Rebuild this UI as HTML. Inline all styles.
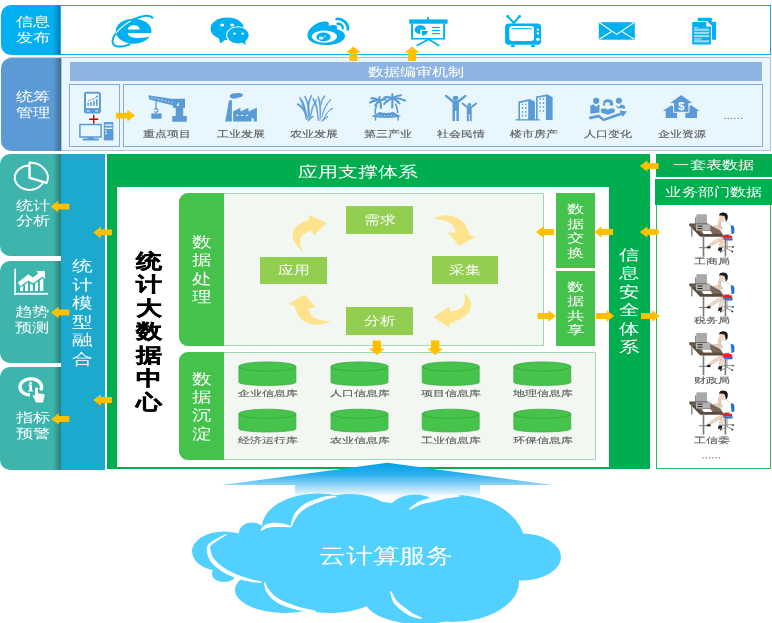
<!DOCTYPE html>
<html><head><meta charset="utf-8">
<style>
*{margin:0;padding:0;box-sizing:border-box}
html,body{width:772px;height:623px;overflow:hidden;background:#fff}
body{position:relative;font-family:"Liberation Sans",sans-serif}
.a{position:absolute}
.t{position:absolute;white-space:nowrap;will-change:transform;transform:translateX(-50%) scaleX(var(--k,1.3));text-align:center}
.w{color:#fff}
.g{color:#5a5a5a;-webkit-text-stroke:0.12px #5a5a5a}
.b{color:#000;font-weight:bold;-webkit-text-stroke:0.35px #000}
.lbl{border-radius:10px 0 0 10px;overflow:hidden}
.lbl::after{content:"";position:absolute;right:0;top:0;bottom:0;width:8px;background:linear-gradient(to right,rgba(0,0,0,0),rgba(0,0,0,.3))}
svg{position:absolute;left:0;top:0}
</style></head><body>


<div class="a lbl" style="left:1px;top:4.5px;width:60px;height:50.5px;background:#00B0F0"></div>
<div class="a" style="left:60px;top:4.5px;width:711px;height:50.5px;border:1.5px solid #00B0F0;background:#fff"></div>

<div class="a" style="left:61px;top:56.5px;width:710px;height:94.5px;background:#E8F6FE;border:1px solid #A9C6E8;border-top-color:#B4C0D2"></div>
<div class="a" style="left:8px;top:56.5px;width:54px;height:1px;background:#C4CCD8"></div>
<div class="a lbl" style="left:1px;top:57.5px;width:60px;height:93.5px;background:#5B9BD5"></div>
<div class="a" style="left:69.5px;top:62px;width:692.5px;height:19px;background:#8DB4E2"></div>
<div class="a" style="left:69px;top:84px;width:51px;height:63px;border:1px solid #8AA8DC"></div>
<div class="a" style="left:123px;top:84px;width:640px;height:63px;border:1px solid #8AA8DC"></div>

<div class="a lbl" style="left:0;top:154px;width:61px;height:102px;background:#3DB5AD"></div>
<div class="a lbl" style="left:0;top:260.5px;width:61px;height:102px;background:#3DB5AD"></div>
<div class="a lbl" style="left:0;top:367px;width:61px;height:103px;background:#3DB5AD"></div>
<div class="a" style="left:60.5px;top:154px;width:44.5px;height:316px;background:#1CA9CE"></div>

<div class="a" style="left:107px;top:154px;width:542.5px;height:315px;background:#00AD4F"></div>
<div class="a" style="left:117px;top:187px;width:491.5px;height:280px;background:#fff"></div>

<div class="a" style="left:179px;top:192.8px;width:365px;height:153.5px;background:#F2F8F1;border:1.3px solid #9ED9B0;border-radius:9px 0 0 9px"></div>
<div class="a" style="left:179px;top:192.8px;width:45px;height:153.5px;background:#45C24B;border-radius:9px 0 0 9px"></div>
<div class="a" style="left:179px;top:351.5px;width:417px;height:108.5px;background:#F2F8F1;border:1.3px solid #9ED9B0;border-radius:9px 0 0 9px"></div>
<div class="a" style="left:179px;top:351.5px;width:45px;height:108.5px;background:#45C24B;border-radius:9px 0 0 9px"></div>

<div class="a" style="left:556.3px;top:192.6px;width:39px;height:75px;background:#45C24B"></div>
<div class="a" style="left:556.3px;top:270.5px;width:39px;height:75px;background:#45C24B"></div>

<div class="a" style="left:346.4px;top:206px;width:66.6px;height:27.7px;background:#92CF50"></div>
<div class="a" style="left:431.8px;top:256.2px;width:66.6px;height:27.7px;background:#92CF50"></div>
<div class="a" style="left:260.2px;top:256.8px;width:67px;height:27.4px;background:#92CF50"></div>
<div class="a" style="left:346.4px;top:307.3px;width:66.6px;height:27.4px;background:#92CF50"></div>

<div class="a" style="left:655.7px;top:153.6px;width:116.3px;height:23px;background:#00AD4F"></div>
<div class="a" style="left:655px;top:179.2px;width:117px;height:25.8px;background:#00AD4F"></div>
<div class="a" style="left:655.5px;top:205px;width:115.5px;height:263.5px;border:1.5px solid #2DB85A;border-top:none;background:#fff"></div>

<svg width="772" height="623" viewBox="0 0 772 623">
<g>
<ellipse cx="133.6" cy="31.2" rx="17.8" ry="12.5" fill="#00B0F0"/>
<path d="M127.8,29.4 C128,26.6 131,25.2 133.8,25.2 C136.8,25.2 139.6,26.6 139.8,29.4 Z" fill="#fff"/>
<path d="M127.6,33 L151.6,33 L151.6,35.8 C148,37.4 141,38.2 136,38 C131,37.8 128.2,36 127.6,33 Z" fill="#fff"/>
<path d="M152.46,17.79 L151.94,17.30 L151.32,16.88 L150.62,16.53 L149.82,16.25 L148.95,16.04 L147.99,15.91 L146.97,15.85 L145.87,15.87 L144.72,15.97 L143.50,16.14 L142.24,16.38 L140.93,16.70 L139.58,17.08 L138.20,17.54 L136.79,18.06 L135.37,18.65 L133.94,19.30 L132.50,20.01 L131.06,20.77 L129.63,21.59 L128.23,22.45 L126.84,23.35 L125.49,24.29 L124.17,25.27 L122.90,26.28 L121.67,27.31 L120.51,28.36 L119.40,29.42 L118.37,30.49 L117.40,31.57 L116.51,32.64 L115.71,33.71 L114.99,34.76 L114.35,35.80 L113.81,36.81 L113.37,37.80 L113.02,38.76 L112.77,39.67 L112.62,40.55 L112.57,41.38 L112.62,42.16 L112.78,42.88 L113.03,43.55 L113.38,44.16 L113.83,44.70 L114.37,45.18 L115.00,45.59 L115.73,45.93 L116.53,46.19 L117.42,46.39 L118.39,46.50 L119.43,46.55 L120.54,46.51 L121.71,46.41 L122.93,46.22 L124.20,45.97 L125.52,45.64 L126.88,45.24 L128.26,44.77 L129.67,44.23" fill="none" stroke="#00B0F0" stroke-width="2" stroke-linecap="round"/>
<path d="M130.46,21.11 L129.75,21.52 L129.05,21.94 L128.35,22.37 L127.65,22.81 L126.97,23.27 L126.29,23.73 L125.61,24.20 L124.95,24.68 L124.30,25.17 L123.66,25.67 L123.03,26.17 L122.41,26.68 L121.80,27.20 L121.21,27.72 L120.64,28.24 L120.07,28.77 L119.53,29.30 L119.00,29.83 L118.49,30.36 L117.99,30.90 L117.52,31.43 L117.06,31.97 L116.62,32.50 L116.21,33.04" fill="none" stroke="#fff" stroke-width="1.1" stroke-linecap="round"/>
</g>
<g fill="#00B0F0">
<ellipse cx="227.2" cy="28.7" rx="16.7" ry="11.2"/>
<path d="M218.5,37 L220.2,43.4 L226,39.2 Z"/>
<ellipse cx="237.9" cy="35.3" rx="11.8" ry="9.1" fill="#fff"/>
<ellipse cx="237.9" cy="35.3" rx="10.8" ry="8.1"/>
<path d="M240.5,41.5 L245.8,45 L245,39 Z"/>
<ellipse cx="222.2" cy="25" rx="2" ry="1.5" fill="#fff"/>
<ellipse cx="232.1" cy="25" rx="2" ry="1.5" fill="#fff"/>
<ellipse cx="234.5" cy="33.7" rx="1.3" ry="1.1" fill="#fff"/>
<ellipse cx="242.6" cy="33.7" rx="1.3" ry="1.1" fill="#fff"/>
</g>
<g>
<path d="M307.5,36 C307,31 312,25.5 318,23 C322.5,21.2 327,21 328.4,22.5 C329.4,23.6 328.8,25 328.6,26 C331,25 334.5,24.5 336.2,25.6 C337.6,26.6 337.2,28.3 336.8,29.2 C341,30 345.2,32.4 345,36.2 C344.8,41.5 336,45 326,45 C315.5,45 307.8,41.5 307.5,36 Z" fill="#00B0F0"/>
<ellipse cx="324.4" cy="36.6" rx="12.6" ry="6.1" fill="#fff"/>
<ellipse cx="323.5" cy="36.9" rx="7.2" ry="4.5" fill="#00B0F0"/>
<ellipse cx="321.2" cy="37.9" rx="2.4" ry="1.5" fill="#fff"/>
<circle cx="325" cy="36.2" r="0.8" fill="#fff"/>
<path d="M336.6,19 C342.5,18.5 348.5,23 347.8,29.5" fill="none" stroke="#00B0F0" stroke-width="2.7" stroke-linecap="round"/>
<path d="M337.6,23.8 C340.5,23.5 343.2,25.6 342.8,28.2" fill="none" stroke="#00B0F0" stroke-width="2.4" stroke-linecap="round"/>
</g>
<g fill="#00B0F0">
<rect x="409.2" y="19.4" width="38.4" height="4.3"/>
<rect x="427.1" y="16.9" width="1.8" height="3"/>
<path d="M411.1,23.7 h34 v15.8 h-34 Z M413.1,23.7 v14.2 h30.1 v-14.2 Z" fill-rule="evenodd"/>
<path d="M420.3,29.7 L426,29.7 A5.7,4.4 0 1 0 420.3,34.1 Z"/>
<path d="M422,31.1 L427.9,31.1 A5.9,4.6 0 0 1 422,35.7 Z"/>
<rect x="432.1" y="26.9" width="7.8" height="1.2"/>
<rect x="432.1" y="30" width="7.8" height="1.2"/>
<rect x="432.1" y="33" width="7.8" height="1.2"/>
<path d="M428.6,39.2 L417.2,45.4 M428.6,39.2 L438.9,45.4" stroke="#00B0F0" stroke-width="1.7" stroke-linecap="round"/>
</g>
<g fill="#00B0F0">
<rect x="505.1" y="23.5" width="36" height="21.2" rx="3.5"/>
<rect x="509.3" y="26" width="24.7" height="15.1" rx="3" fill="#fff"/>
<path d="M511.5,28.9 Q522,27.8 532,28.9" stroke="#00B0F0" stroke-width="1" fill="none"/>
<circle cx="537.9" cy="29.6" r="1.2" fill="#fff"/>
<circle cx="537.9" cy="33.4" r="1.2" fill="#fff"/>
<ellipse cx="537.9" cy="39.2" rx="1.9" ry="1.5" fill="#fff"/>
<path d="M513.8,23 L508,16.6 M513.8,23 L519.4,16.6" stroke="#00B0F0" stroke-width="2" stroke-linecap="round"/>
<circle cx="507.7" cy="16.4" r="1.4"/><circle cx="519.6" cy="16.4" r="1.4"/>
<ellipse cx="512.8" cy="46.1" rx="2.2" ry="1.2"/>
<ellipse cx="533" cy="46.1" rx="2.2" ry="1.2"/>
</g>
<g>
<rect x="598.8" y="22.2" width="36" height="17.5" fill="#00B0F0"/>
<path d="M599.3,22.6 L616.7,34.4 L634.3,22.6 M599.3,39.3 L611.9,31.2 M634.3,39.3 L621.4,31.2" stroke="#fff" stroke-width="1.2" fill="none"/>
</g>
<g>
<path d="M697.8,17.8 L711.8,17.8 L716.1,22 L716.1,39.8 L697.8,39.8 Z" fill="#00B0F0"/>
<path d="M711.8,17.8 L716.1,22 L711.8,22 Z" fill="#fff"/>
<path d="M691.2,21.1 L707,21.1 L712,26 L712,45.4 L691.2,45.4 Z" fill="#fff"/>
<path d="M692.2,22.1 L706.3,22.1 L710.9,26.5 L710.9,44.4 L692.2,44.4 Z" fill="#00B0F0"/>
<path d="M706.3,22.1 L710.9,26.5 L706.3,26.5 Z" fill="#fff"/>
<g fill="#9ADCF8"><rect x="694.1" y="28.6" width="15" height="2.2"/><rect x="694.1" y="31.8" width="15" height="2.2"/><rect x="694.1" y="35" width="15" height="2.2"/><rect x="694.1" y="38.2" width="7.5" height="1.4"/><rect x="694.1" y="40.2" width="15" height="2.2"/></g>
<rect x="694.1" y="27" width="4" height="1" fill="#9ADCF8"/>
</g>
<g fill="#5B9BD5">
<rect x="84" y="91.8" width="16.9" height="21.6" rx="2.2"/>
<rect x="86" y="93.7" width="12.9" height="14.4" fill="#F4FAFE"/>
<rect x="86.5" y="110.5" width="3.2" height="0.9" fill="#F4FAFE"/><rect x="95" y="110.5" width="3.2" height="0.9" fill="#F4FAFE"/>
<rect x="87.3" y="103" width="1.6" height="2.8"/><rect x="90.2" y="102" width="1.6" height="3.8"/><rect x="93.1" y="100.6" width="1.6" height="5.2"/><rect x="96" y="99.2" width="1.6" height="6.6"/>
<path d="M87.8,101 L91.5,99.5 L94.5,98.5 L97.2,96.5" stroke="#5B9BD5" stroke-width="0.8" fill="none"/>
<path d="M98.2,95.5 L95.6,96 L97.8,98 Z"/>
<path d="M89.2,119.2 h9 M93.7,114.8 v9" stroke="#C00000" stroke-width="1.4"/>
<rect x="79.9" y="124.5" width="21.2" height="12.5" fill="none" stroke="#5B9BD5" stroke-width="1.5"/>
<path d="M88.5,137 L93,137 L94.5,139 L87,139 Z"/>
<rect x="82.6" y="138.6" width="16.4" height="1.8" rx="0.9"/>
<rect x="103.8" y="122.1" width="9.6" height="18.3"/>
<rect x="104.8" y="124.4" width="7.6" height="1.3" fill="#F4FAFE"/>
<rect x="104.8" y="127.6" width="7.6" height="1.3" fill="#F4FAFE"/>
<rect x="105" y="130.5" width="1.8" height="1.2" fill="#F4FAFE"/>
<rect x="105" y="133" width="1.8" height="1.2" fill="#F4FAFE"/>
</g>
<g fill="#5B9BD5">
<path d="M148.6,95.3 L176.2,99.4 L176.2,106.2 L149.2,99.4 Z"/>
<g fill="#E8F6FE"><circle cx="152" cy="97.9" r="0.6"/><circle cx="155.3" cy="98.6" r="0.6"/><circle cx="158.6" cy="99.4" r="0.6"/><circle cx="161.9" cy="100.2" r="0.6"/><circle cx="165.2" cy="101" r="0.6"/><circle cx="168.5" cy="101.8" r="0.6"/><circle cx="171.8" cy="102.6" r="0.6"/></g>
<path d="M173.1,98.8 L185,98.8 L185,108.1 L183.2,108.1 L183.2,116 L186.8,116 L186.8,121.8 L172.2,121.8 L172.2,116 L175.7,116 L175.7,108.1 L173.1,108.1 Z"/>
<path d="M176.3,105.9 L178.8,101.9 L178.8,105.9 Z" fill="#E8F6FE"/>
<rect x="155.4" y="99.5" width="1.3" height="9"/>
<path d="M154.2,109.6 Q156,107.8 157.8,109.6 Q158,112 156,112.3 Q154.6,112.2 154.5,111.2" fill="none" stroke="#5B9BD5" stroke-width="1.2"/>
<rect x="151.3" y="113.4" width="10.3" height="5.3"/>
</g>
<g fill="#5B9BD5">
<path d="M229.1,100.2 L231.9,100.2 L231.9,121.4 L225.2,121.4 Z"/>
<path d="M230,95.5 C231,93.5 234,93 236,93.4 C238.5,92.5 242,93 242.9,94.8 C243,96.5 240.5,97.5 238.5,97.6 C236.5,98.8 233,99 231.2,98 C229.8,97.6 229.5,96.5 230,95.5 Z"/>
<path d="M233.1,111.5 L240.4,107.8 L240.4,111.5 L248.5,107.8 L248.5,111.5 L256.9,107.5 L256.9,121.4 L253.7,121.4 L253.7,118.2 L251.6,118.2 L251.6,121.4 L233.1,121.4 Z"/>
<g fill="#E8F6FE"><rect x="236.2" y="114.9" width="2.2" height="1.1"/><rect x="241" y="114.9" width="2.2" height="1.1"/><rect x="245.8" y="114.9" width="2.2" height="1.1"/></g>
</g>
<g fill="#5B9BD5" stroke="#5B9BD5" stroke-width="0.6" stroke-linejoin="round"><path d="M298,103.5 Q306,107 308.5,120.5 Q304,108.5 296.8,104.2 Z"/><path d="M300,97.2 Q306.5,104 306.3,120 Q303.2,105 299.5,97.8 Z"/><path d="M305,96 Q310.5,104 309.3,120.5 Q309,105 304.4,96.6 Z"/><path d="M311.2,95 Q306,104 308.5,117 Q307.8,104.5 311.8,95.5 Z"/><path d="M313.3,98 Q318.5,105 318.3,121 Q316.8,106 312.6,98.5 Z"/><path d="M317,99.8 Q312,107 310.5,118 Q310.2,108 316.4,99.5 Z"/><path d="M318.5,96.5 Q322,104 320,120.5 Q320.3,105 317.9,97 Z"/><path d="M324.6,95.5 Q320.6,100 321,105 Q321.8,100 325.2,96 Z"/><path d="M331.2,99.8 Q324.3,106 321.9,117.5 Q323,107 330.6,99.4 Z"/><path d="M332.8,108.5 Q326,111.5 323.4,121 Q325,113 332.2,108 Z"/><path d="M313,116 Q309,117.5 308,121.5 Q310,118.5 313.6,116.6 Z"/><path d="M327.5,116.3 Q323,118 321.5,121.6 Q324,119 328,116.8 Z"/></g>
<g fill="#5B9BD5">
<g stroke="#5B9BD5" stroke-width="2.1" stroke-linecap="round" fill="none">
<path d="M379.6,100.8 Q375,99.5 370.2,102.6"/><path d="M379.6,100.8 Q374.5,97.6 371.3,98.2"/><path d="M379.6,100.8 Q379,97.5 379.8,97"/>
<path d="M379.6,100.8 Q384,98.5 385.5,99.4"/><path d="M379.6,100.8 Q376.5,103 375.2,105.5"/><path d="M379.6,100.8 Q381.5,104 380.8,108"/>
<path d="M392.4,98.2 Q387,96.5 384.2,97.6"/><path d="M392.4,98.2 Q397,95.5 401,95.2"/><path d="M392.4,98.2 Q398,97.5 405,100.5"/>
<path d="M392.4,98.2 Q386,101 384.2,104"/><path d="M392.4,98.2 Q392.5,101 392.2,107.5"/><path d="M392.4,98.2 Q397,100 399.5,103.5"/><path d="M392.4,98.2 Q392,95.5 392.5,94.2"/>
</g>
<path d="M376.8,105 Q374.8,109 375.1,113.8" stroke="#5B9BD5" stroke-width="1.6" fill="none"/>
<path d="M395.5,103.6 Q397.5,108 397.8,113.2" stroke="#5B9BD5" stroke-width="1.6" fill="none"/>
<path d="M371.3,116.4 L379.5,112 Q386.5,114 393.3,112 L401,116.4 Q386,119.5 371.3,116.4 Z"/>
<g fill="#E8F6FE" opacity="0.8"><circle cx="377.5" cy="115" r="0.5"/><circle cx="381" cy="115.2" r="0.5"/><circle cx="384.5" cy="115.4" r="0.5"/><circle cx="388" cy="115.4" r="0.5"/><circle cx="391.5" cy="115.2" r="0.5"/><circle cx="395" cy="115" r="0.5"/><circle cx="379" cy="116.8" r="0.5"/><circle cx="382.8" cy="117" r="0.5"/><circle cx="386.5" cy="117.1" r="0.5"/><circle cx="390.2" cy="117" r="0.5"/><circle cx="393.8" cy="116.8" r="0.5"/></g>
<rect x="374.8" y="116.5" width="1.4" height="4.1"/><rect x="397.4" y="116.5" width="1.4" height="4.1"/>
</g>
<g fill="#5B9BD5">
<ellipse cx="455.6" cy="98.1" rx="2.8" ry="2.3"/>
<path d="M446,95.9 L453,101.5 M465.4,95.9 L458.4,101.5" stroke="#5B9BD5" stroke-width="2.3" stroke-linecap="round"/>
<rect x="452.5" y="100.4" width="6.4" height="10.5"/>
<rect x="452.5" y="110" width="2.5" height="11" rx="0.6"/><rect x="456.4" y="110" width="2.5" height="11" rx="0.6"/>
<circle cx="469.3" cy="104.8" r="1.9"/>
<path d="M462.5,103.5 L467.3,107.3 M476.1,103.5 L471.3,107.3" stroke="#5B9BD5" stroke-width="1.8" stroke-linecap="round"/>
<rect x="466.8" y="106.5" width="4.9" height="7.5"/>
<rect x="466.8" y="113" width="2" height="8.2" rx="0.5"/><rect x="469.7" y="113" width="2" height="8.2" rx="0.5"/>
</g>
<g fill="#5B9BD5">
<path d="M518.4,120 L518.4,101.6 L529.7,99 L534.9,101.5 L534.9,120 L528.2,120 L528.2,101.2 L520,102.9 L520,120 Z"/>
<path d="M536,120 L536,96.5 L547.4,94.3 L552.6,97.3 L552.6,120 L545.9,120 L545.9,96.4 L537.6,98 L537.6,120 Z"/>
<rect x="515.7" y="119.2" width="24" height="1.3"/>
<rect x="521.8" y="103.5" width="1.4" height="1.8" rx="0.5"/><rect x="521.8" y="107.1" width="1.4" height="1.8" rx="0.5"/><rect x="521.8" y="110.9" width="1.4" height="1.8" rx="0.5"/><rect x="521.8" y="114.6" width="1.4" height="1.8" rx="0.5"/><rect x="525.1" y="103.5" width="1.4" height="1.8" rx="0.5"/><rect x="525.1" y="107.1" width="1.4" height="1.8" rx="0.5"/><rect x="525.1" y="110.9" width="1.4" height="1.8" rx="0.5"/><rect x="525.1" y="114.6" width="1.4" height="1.8" rx="0.5"/><rect x="539.5" y="98.3" width="1.4" height="1.8" rx="0.5"/><rect x="539.5" y="102.1" width="1.4" height="1.8" rx="0.5"/><rect x="539.5" y="106.0" width="1.4" height="1.8" rx="0.5"/><rect x="539.5" y="109.9" width="1.4" height="1.8" rx="0.5"/><rect x="542.8" y="98.3" width="1.4" height="1.8" rx="0.5"/><rect x="542.8" y="102.1" width="1.4" height="1.8" rx="0.5"/><rect x="542.8" y="106.0" width="1.4" height="1.8" rx="0.5"/><rect x="542.8" y="109.9" width="1.4" height="1.8" rx="0.5"/>
</g>
<g fill="#5B9BD5">
<circle cx="596.2" cy="100.8" r="3.1"/>
<path d="M590.3,106 Q591,104.8 594,104.6 L596.2,107 L598.4,104.6 Q599.2,104.6 599.5,105.5 L599.5,112.5 L590.3,113.8 Z"/>
<circle cx="618.9" cy="100.8" r="3"/>
<path d="M615.6,104.8 L618.6,107.2 L621,104.6 Q624.7,104.9 625,106.5 L625,108.6 L617.5,108.2 Z"/>
<path d="M602.7,105.6 L603.6,101.5 Q604.5,99.2 608.1,99.2 Q611.7,99.2 612.6,101.5 L613.5,105.6 Z"/>
<path d="M605.1,103 Q606.5,102.6 607.6,101.8 Q608.8,102.8 609.9,102.6 L609.9,104.4 Q609.5,106.2 607.5,106.3 Q605.5,106.2 605.1,104.4 Z" fill="#E8F6FE"/>
<path d="M600.7,110 Q600.7,108.4 602.5,108.4 L605.6,108.4 Q607.8,110.4 610,108.4 L613.2,108.4 Q614.9,108.4 614.9,110 L614.2,112.4 L607.8,114.8 L601.4,112.8 Z"/>
<path d="M588.8,116.8 L598.8,114.5 L603.8,118.6 L620.5,112.4 L619.6,110.4 L627,111.4 L622.5,117 L621.6,115 L603.4,121.2 L598.4,117.6 L589.8,119.6 Z"/>
</g>
<g fill="#5B9BD5">
<path d="M671.4,105.3 L680.2,110.9 L677.1,110.9 L677.1,118.1 L665.7,118.1 L665.7,110.9 L662.8,110.9 Z"/>
<path d="M691.1,105.3 L699.6,110.9 L697,110.9 L697,118.1 L685.4,118.1 L685.4,110.9 L682.3,110.9 Z"/>
<path d="M681.2,94.6 L693.6,103.4 L688.9,103.4 L688.9,112.3 L673.6,112.3 L673.6,103.4 L668.9,103.4 Z" stroke="#E8F6FE" stroke-width="1"/>
<text x="681.3" y="110.4" font-size="11.5" font-weight="bold" fill="#fff" text-anchor="middle" font-family="Liberation Sans, sans-serif">$</text>
</g>
<g fill="#666"><ellipse cx="725.0" cy="118.2" rx="0.85" ry="0.55"/><ellipse cx="728.3" cy="118.2" rx="0.85" ry="0.55"/><ellipse cx="731.6" cy="118.2" rx="0.85" ry="0.55"/><ellipse cx="734.9" cy="118.2" rx="0.85" ry="0.55"/><ellipse cx="738.2" cy="118.2" rx="0.85" ry="0.55"/><ellipse cx="741.5" cy="118.2" rx="0.85" ry="0.55"/></g>

<g fill="none" stroke="#fff" stroke-width="2">
<path d="M29.5,177.7 L29.5,165.5 A14.7,12.2 0 1 0 43.3,181.9 Z" stroke-linejoin="round"/>
<path d="M29.5,177.7 L29.5,162.6 A18.4,15.1 0 0 1 46.7,182.95 Z" stroke-linejoin="round"/>
</g>
<g fill="#fff">
<rect x="14.3" y="268.7" width="1.7" height="26.2"/>
<rect x="14.3" y="292.9" width="33.8" height="1.8"/>
<path d="M17.9,282.4 L28.3,274.2 L32.8,277.4 L38.4,273.2 L36.2,271.2 L44.8,270.8 L45.2,279 L42.6,276.4 L32.9,283.2 L28.3,280.4 L20.2,286.2 Z"/>
<path d="M20.1,291 L20.1,287.4 L21.6,286.6 L23.1,285.9 L23.1,291 Z"/>
<path d="M25,291 L25,284.4 L28,282.3 L28,291 Z"/>
<path d="M30.1,291 L30.1,283.6 L32.9,285.3 L32.9,291 Z"/>
<path d="M35,291 L35,283.6 L38,281.5 L38,291 Z"/>
<path d="M39.9,291 L39.9,280.2 L43.3,277.8 L43.3,291 Z"/>
</g>
<g>
<path d="M40.6,390.3 A10.8,8.1 0 1 0 29.9,395" fill="none" stroke="#fff" stroke-width="3.3"/>
<circle cx="30.6" cy="383" r="1.3" fill="#fff"/>
<path d="M28.5,384.6 L32,384.6 L32,390.3 L33,390.3 L33,391.6 L28.3,391.6 L28.3,390.3 L29.4,390.3 L29.4,385.9 L28.5,385.9 Z" fill="#fff"/>
<path d="M35,388.8 Q35,387.6 36.5,387.6 Q38,387.6 38,388.8 L38,393.2 L43.5,394 Q44.8,394.3 44.6,395.6 L43.6,400 L42.9,402.6 L35.8,402.6 L34.5,399 L32.8,396.2 Q32.6,395 33.8,395 L35,396 Z" fill="#fff" stroke="#3DB5AD" stroke-width="2.2" paint-order="stroke"/>
</g>

<g fill="#FFE28C">
<path d="M303.4,251.8 C293,244 289,233 297,226 C301,222.5 305,221 309.1,219.8 L308.4,214.7 L326.5,223 L313.8,235.6 L311.7,231 C305,232 300,236 300,241 C300,245 301,248.5 303.4,251.8 Z"/>
<path d="M433.1,219 C439,216 444,215 449,215.4 C459,216.5 466,222 469.5,235.3 L475.7,236.4 L459.4,246.1 L447.9,232.4 L455.5,233.1 C455.5,229 454,226 452,224 C448,221 441,219.5 433.1,219 Z"/>
<path d="M464.1,292.7 C470,298 473,304 470,310 C466,317 458,321 449.7,323.4 L449.3,327.7 L433.4,317.3 L449.3,306.4 L450,311.8 C456,311 461,309 463.5,305 C465.5,301 465.5,297 464.1,292.7 Z"/>
<path d="M330.9,321.5 C325,324 319,325 313.9,324.7 C304,323.5 297,317 294.8,306 L288.3,304.1 L304.5,294.4 L315.7,307.8 L308.8,307.8 C309,311 310,314 312,316 C316,319.5 323,321 330.9,321.5 Z"/>
</g>
<path d="M238.89999999999998,366.5 L238.89999999999998,382.3 A28.5,3.2 0 0 0 295.9,382.3 L295.9,366.5 Z" fill="#45C34B" stroke="#3AAA40" stroke-width="0.7"/>
<ellipse cx="267.4" cy="366.5" rx="28.5" ry="4.6" fill="#45C34B" stroke="#37A03D" stroke-width="0.7"/>
<path d="M238.89999999999998,413.8 L238.89999999999998,428.8 A28.5,3.2 0 0 0 295.9,428.8 L295.9,413.8 Z" fill="#45C34B" stroke="#3AAA40" stroke-width="0.7"/>
<ellipse cx="267.4" cy="413.8" rx="28.5" ry="4.6" fill="#45C34B" stroke="#37A03D" stroke-width="0.7"/>
<path d="M331.0,366.5 L331.0,382.3 A28.5,3.2 0 0 0 388.0,382.3 L388.0,366.5 Z" fill="#45C34B" stroke="#3AAA40" stroke-width="0.7"/>
<ellipse cx="359.5" cy="366.5" rx="28.5" ry="4.6" fill="#45C34B" stroke="#37A03D" stroke-width="0.7"/>
<path d="M331.0,413.8 L331.0,428.8 A28.5,3.2 0 0 0 388.0,428.8 L388.0,413.8 Z" fill="#45C34B" stroke="#3AAA40" stroke-width="0.7"/>
<ellipse cx="359.5" cy="413.8" rx="28.5" ry="4.6" fill="#45C34B" stroke="#37A03D" stroke-width="0.7"/>
<path d="M422.2,366.5 L422.2,382.3 A28.5,3.2 0 0 0 479.2,382.3 L479.2,366.5 Z" fill="#45C34B" stroke="#3AAA40" stroke-width="0.7"/>
<ellipse cx="450.7" cy="366.5" rx="28.5" ry="4.6" fill="#45C34B" stroke="#37A03D" stroke-width="0.7"/>
<path d="M422.2,413.8 L422.2,428.8 A28.5,3.2 0 0 0 479.2,428.8 L479.2,413.8 Z" fill="#45C34B" stroke="#3AAA40" stroke-width="0.7"/>
<ellipse cx="450.7" cy="413.8" rx="28.5" ry="4.6" fill="#45C34B" stroke="#37A03D" stroke-width="0.7"/>
<path d="M513.8,366.5 L513.8,382.3 A28.5,3.2 0 0 0 570.8,382.3 L570.8,366.5 Z" fill="#45C34B" stroke="#3AAA40" stroke-width="0.7"/>
<ellipse cx="542.3" cy="366.5" rx="28.5" ry="4.6" fill="#45C34B" stroke="#37A03D" stroke-width="0.7"/>
<path d="M513.8,413.8 L513.8,428.8 A28.5,3.2 0 0 0 570.8,428.8 L570.8,413.8 Z" fill="#45C34B" stroke="#3AAA40" stroke-width="0.7"/>
<ellipse cx="542.3" cy="413.8" rx="28.5" ry="4.6" fill="#45C34B" stroke="#37A03D" stroke-width="0.7"/>
<g transform="translate(0,0)">
<path d="M695,217.5 L696.6,216.5 L696.6,224.5 L695,223.5 Z" fill="#8c8c8c"/>
<rect x="696.4" y="214.3" width="10.5" height="10.4" fill="#a9a9a9"/>
<path d="M689.3,223.6 L707.7,223.6 L729.4,235 L727.7,236.8 L700.2,236.8 L689.3,225.6 Z" fill="#5a4a3c"/>
<path d="M692.4,224.8 L707.2,224.8 L724.5,233.8 L701.5,233.8 Z" fill="#7a6a5c"/><path d="M707.7,224 L728.2,234.6" stroke="#cfcfcf" stroke-width="0.8"/>
<rect x="696" y="224.3" width="14.2" height="6.2" fill="#b3b3b3"/>
<rect x="697.5" y="225.6" width="5" height="1" fill="#222"/><rect x="697.5" y="228.1" width="5" height="1" fill="#222"/>
<path d="M702,231 L710.6,231 L712.4,234 L703.6,234 Z" fill="#fff"/>
<rect x="691.2" y="225.5" width="1.3" height="11" fill="#7a7a7a"/>
<rect x="702.7" y="236.6" width="1.6" height="20" fill="#7a7a7a"/>
<rect x="724.6" y="236.6" width="1.6" height="20" fill="#7a7a7a"/>
<path d="M699,247.7 L707,247.7" stroke="#7a7a7a" stroke-width="1"/>
<path d="M730.9,225.4 Q734.4,225 734.4,229 L734.4,233 Q733,234.6 731.2,233.8 Z" fill="#1e73d6"/>
<path d="M721.8,235.4 L731.6,235.4 L732.4,238.6 L721.2,238.6 Z" fill="#e8202a"/>
<path d="M720.6,238.4 L733,238.4 L732.2,240.6 L721.4,240.6 Z" fill="#1e73d6"/>
<path d="M727,240 L727,249 M721.5,247 L732,246.8 M722,251.4 L726.8,248.5 L732,251.3" stroke="#8a8a8a" stroke-width="0.9" fill="none"/>
<circle cx="720.8" cy="251.6" r="0.9" fill="#333"/><circle cx="732.3" cy="251.5" r="0.9" fill="#333"/><circle cx="733" cy="247" r="0.9" fill="#333"/>
<path d="M720.6,222 L725.5,221.2 L730.6,225.2 L731.4,233.6 L723.2,235.2 L719.8,229.5 Z" fill="#fff" stroke="#aaa" stroke-width="0.45"/>
<path d="M713,226.4 L718.2,225.4 L722.6,227.4 L722.2,229.2 L716.8,228.4 Z" fill="#f1d2bc" stroke="#a08070" stroke-width="0.3"/>
<path d="M718.6,226.8 L718.3,221.4 L719.8,218.6 L720.8,219.2 L720.2,222.4 L720.4,226.6 Z" fill="#f1d2bc" stroke="#a08070" stroke-width="0.3"/>
<path d="M722.8,236.8 L715.6,240 L707.4,246.2 L709,247.2 L717.2,242.4 L723.6,239.6 Z" fill="#f4d9c6" stroke="#a08070" stroke-width="0.35"/>
<path d="M722,238.8 L719.4,244.2 L720,248.4 L721.8,248.4 L722.6,243.6 L725.4,240.2 Z" fill="#f4d9c6" stroke="#a08070" stroke-width="0.35"/>
<path d="M706.5,246.8 L710.3,246 L710.6,248.3 L707.6,248.6 Z" fill="#222"/>
<path d="M718.6,247.6 L722.3,247.5 L722,250.6 L718,251 Z" fill="#222"/>
<ellipse cx="722" cy="217.6" rx="2.8" ry="3.6" fill="#f1d2bc"/>
<path d="M719,215.6 Q719.2,212.6 723.4,212.6 Q728.2,212.8 727.8,217.6 Q727.8,220.6 725.8,221.6 Q725.4,218.4 724.4,216 Q722,215.2 719,215.6 Z" fill="#1a1a1a"/>
</g>
<g transform="translate(0,59.9)">
<path d="M695,217.5 L696.6,216.5 L696.6,224.5 L695,223.5 Z" fill="#8c8c8c"/>
<rect x="696.4" y="214.3" width="10.5" height="10.4" fill="#a9a9a9"/>
<path d="M689.3,223.6 L707.7,223.6 L729.4,235 L727.7,236.8 L700.2,236.8 L689.3,225.6 Z" fill="#5a4a3c"/>
<path d="M692.4,224.8 L707.2,224.8 L724.5,233.8 L701.5,233.8 Z" fill="#7a6a5c"/><path d="M707.7,224 L728.2,234.6" stroke="#cfcfcf" stroke-width="0.8"/>
<rect x="696" y="224.3" width="14.2" height="6.2" fill="#b3b3b3"/>
<rect x="697.5" y="225.6" width="5" height="1" fill="#222"/><rect x="697.5" y="228.1" width="5" height="1" fill="#222"/>
<path d="M702,231 L710.6,231 L712.4,234 L703.6,234 Z" fill="#fff"/>
<rect x="691.2" y="225.5" width="1.3" height="11" fill="#7a7a7a"/>
<rect x="702.7" y="236.6" width="1.6" height="20" fill="#7a7a7a"/>
<rect x="724.6" y="236.6" width="1.6" height="20" fill="#7a7a7a"/>
<path d="M699,247.7 L707,247.7" stroke="#7a7a7a" stroke-width="1"/>
<path d="M730.9,225.4 Q734.4,225 734.4,229 L734.4,233 Q733,234.6 731.2,233.8 Z" fill="#1e73d6"/>
<path d="M721.8,235.4 L731.6,235.4 L732.4,238.6 L721.2,238.6 Z" fill="#e8202a"/>
<path d="M720.6,238.4 L733,238.4 L732.2,240.6 L721.4,240.6 Z" fill="#1e73d6"/>
<path d="M727,240 L727,249 M721.5,247 L732,246.8 M722,251.4 L726.8,248.5 L732,251.3" stroke="#8a8a8a" stroke-width="0.9" fill="none"/>
<circle cx="720.8" cy="251.6" r="0.9" fill="#333"/><circle cx="732.3" cy="251.5" r="0.9" fill="#333"/><circle cx="733" cy="247" r="0.9" fill="#333"/>
<path d="M720.6,222 L725.5,221.2 L730.6,225.2 L731.4,233.6 L723.2,235.2 L719.8,229.5 Z" fill="#fff" stroke="#aaa" stroke-width="0.45"/>
<path d="M713,226.4 L718.2,225.4 L722.6,227.4 L722.2,229.2 L716.8,228.4 Z" fill="#f1d2bc" stroke="#a08070" stroke-width="0.3"/>
<path d="M718.6,226.8 L718.3,221.4 L719.8,218.6 L720.8,219.2 L720.2,222.4 L720.4,226.6 Z" fill="#f1d2bc" stroke="#a08070" stroke-width="0.3"/>
<path d="M722.8,236.8 L715.6,240 L707.4,246.2 L709,247.2 L717.2,242.4 L723.6,239.6 Z" fill="#f4d9c6" stroke="#a08070" stroke-width="0.35"/>
<path d="M722,238.8 L719.4,244.2 L720,248.4 L721.8,248.4 L722.6,243.6 L725.4,240.2 Z" fill="#f4d9c6" stroke="#a08070" stroke-width="0.35"/>
<path d="M706.5,246.8 L710.3,246 L710.6,248.3 L707.6,248.6 Z" fill="#222"/>
<path d="M718.6,247.6 L722.3,247.5 L722,250.6 L718,251 Z" fill="#222"/>
<ellipse cx="722" cy="217.6" rx="2.8" ry="3.6" fill="#f1d2bc"/>
<path d="M719,215.6 Q719.2,212.6 723.4,212.6 Q728.2,212.8 727.8,217.6 Q727.8,220.6 725.8,221.6 Q725.4,218.4 724.4,216 Q722,215.2 719,215.6 Z" fill="#1a1a1a"/>
</g>
<g transform="translate(0,118.6)">
<path d="M695,217.5 L696.6,216.5 L696.6,224.5 L695,223.5 Z" fill="#8c8c8c"/>
<rect x="696.4" y="214.3" width="10.5" height="10.4" fill="#a9a9a9"/>
<path d="M689.3,223.6 L707.7,223.6 L729.4,235 L727.7,236.8 L700.2,236.8 L689.3,225.6 Z" fill="#5a4a3c"/>
<path d="M692.4,224.8 L707.2,224.8 L724.5,233.8 L701.5,233.8 Z" fill="#7a6a5c"/><path d="M707.7,224 L728.2,234.6" stroke="#cfcfcf" stroke-width="0.8"/>
<rect x="696" y="224.3" width="14.2" height="6.2" fill="#b3b3b3"/>
<rect x="697.5" y="225.6" width="5" height="1" fill="#222"/><rect x="697.5" y="228.1" width="5" height="1" fill="#222"/>
<path d="M702,231 L710.6,231 L712.4,234 L703.6,234 Z" fill="#fff"/>
<rect x="691.2" y="225.5" width="1.3" height="11" fill="#7a7a7a"/>
<rect x="702.7" y="236.6" width="1.6" height="20" fill="#7a7a7a"/>
<rect x="724.6" y="236.6" width="1.6" height="20" fill="#7a7a7a"/>
<path d="M699,247.7 L707,247.7" stroke="#7a7a7a" stroke-width="1"/>
<path d="M730.9,225.4 Q734.4,225 734.4,229 L734.4,233 Q733,234.6 731.2,233.8 Z" fill="#1e73d6"/>
<path d="M721.8,235.4 L731.6,235.4 L732.4,238.6 L721.2,238.6 Z" fill="#e8202a"/>
<path d="M720.6,238.4 L733,238.4 L732.2,240.6 L721.4,240.6 Z" fill="#1e73d6"/>
<path d="M727,240 L727,249 M721.5,247 L732,246.8 M722,251.4 L726.8,248.5 L732,251.3" stroke="#8a8a8a" stroke-width="0.9" fill="none"/>
<circle cx="720.8" cy="251.6" r="0.9" fill="#333"/><circle cx="732.3" cy="251.5" r="0.9" fill="#333"/><circle cx="733" cy="247" r="0.9" fill="#333"/>
<path d="M720.6,222 L725.5,221.2 L730.6,225.2 L731.4,233.6 L723.2,235.2 L719.8,229.5 Z" fill="#fff" stroke="#aaa" stroke-width="0.45"/>
<path d="M713,226.4 L718.2,225.4 L722.6,227.4 L722.2,229.2 L716.8,228.4 Z" fill="#f1d2bc" stroke="#a08070" stroke-width="0.3"/>
<path d="M718.6,226.8 L718.3,221.4 L719.8,218.6 L720.8,219.2 L720.2,222.4 L720.4,226.6 Z" fill="#f1d2bc" stroke="#a08070" stroke-width="0.3"/>
<path d="M722.8,236.8 L715.6,240 L707.4,246.2 L709,247.2 L717.2,242.4 L723.6,239.6 Z" fill="#f4d9c6" stroke="#a08070" stroke-width="0.35"/>
<path d="M722,238.8 L719.4,244.2 L720,248.4 L721.8,248.4 L722.6,243.6 L725.4,240.2 Z" fill="#f4d9c6" stroke="#a08070" stroke-width="0.35"/>
<path d="M706.5,246.8 L710.3,246 L710.6,248.3 L707.6,248.6 Z" fill="#222"/>
<path d="M718.6,247.6 L722.3,247.5 L722,250.6 L718,251 Z" fill="#222"/>
<ellipse cx="722" cy="217.6" rx="2.8" ry="3.6" fill="#f1d2bc"/>
<path d="M719,215.6 Q719.2,212.6 723.4,212.6 Q728.2,212.8 727.8,217.6 Q727.8,220.6 725.8,221.6 Q725.4,218.4 724.4,216 Q722,215.2 719,215.6 Z" fill="#1a1a1a"/>
</g>
<g transform="translate(0,178)">
<path d="M695,217.5 L696.6,216.5 L696.6,224.5 L695,223.5 Z" fill="#8c8c8c"/>
<rect x="696.4" y="214.3" width="10.5" height="10.4" fill="#a9a9a9"/>
<path d="M689.3,223.6 L707.7,223.6 L729.4,235 L727.7,236.8 L700.2,236.8 L689.3,225.6 Z" fill="#5a4a3c"/>
<path d="M692.4,224.8 L707.2,224.8 L724.5,233.8 L701.5,233.8 Z" fill="#7a6a5c"/><path d="M707.7,224 L728.2,234.6" stroke="#cfcfcf" stroke-width="0.8"/>
<rect x="696" y="224.3" width="14.2" height="6.2" fill="#b3b3b3"/>
<rect x="697.5" y="225.6" width="5" height="1" fill="#222"/><rect x="697.5" y="228.1" width="5" height="1" fill="#222"/>
<path d="M702,231 L710.6,231 L712.4,234 L703.6,234 Z" fill="#fff"/>
<rect x="691.2" y="225.5" width="1.3" height="11" fill="#7a7a7a"/>
<rect x="702.7" y="236.6" width="1.6" height="20" fill="#7a7a7a"/>
<rect x="724.6" y="236.6" width="1.6" height="20" fill="#7a7a7a"/>
<path d="M699,247.7 L707,247.7" stroke="#7a7a7a" stroke-width="1"/>
<path d="M730.9,225.4 Q734.4,225 734.4,229 L734.4,233 Q733,234.6 731.2,233.8 Z" fill="#1e73d6"/>
<path d="M721.8,235.4 L731.6,235.4 L732.4,238.6 L721.2,238.6 Z" fill="#e8202a"/>
<path d="M720.6,238.4 L733,238.4 L732.2,240.6 L721.4,240.6 Z" fill="#1e73d6"/>
<path d="M727,240 L727,249 M721.5,247 L732,246.8 M722,251.4 L726.8,248.5 L732,251.3" stroke="#8a8a8a" stroke-width="0.9" fill="none"/>
<circle cx="720.8" cy="251.6" r="0.9" fill="#333"/><circle cx="732.3" cy="251.5" r="0.9" fill="#333"/><circle cx="733" cy="247" r="0.9" fill="#333"/>
<path d="M720.6,222 L725.5,221.2 L730.6,225.2 L731.4,233.6 L723.2,235.2 L719.8,229.5 Z" fill="#fff" stroke="#aaa" stroke-width="0.45"/>
<path d="M713,226.4 L718.2,225.4 L722.6,227.4 L722.2,229.2 L716.8,228.4 Z" fill="#f1d2bc" stroke="#a08070" stroke-width="0.3"/>
<path d="M718.6,226.8 L718.3,221.4 L719.8,218.6 L720.8,219.2 L720.2,222.4 L720.4,226.6 Z" fill="#f1d2bc" stroke="#a08070" stroke-width="0.3"/>
<path d="M722.8,236.8 L715.6,240 L707.4,246.2 L709,247.2 L717.2,242.4 L723.6,239.6 Z" fill="#f4d9c6" stroke="#a08070" stroke-width="0.35"/>
<path d="M722,238.8 L719.4,244.2 L720,248.4 L721.8,248.4 L722.6,243.6 L725.4,240.2 Z" fill="#f4d9c6" stroke="#a08070" stroke-width="0.35"/>
<path d="M706.5,246.8 L710.3,246 L710.6,248.3 L707.6,248.6 Z" fill="#222"/>
<path d="M718.6,247.6 L722.3,247.5 L722,250.6 L718,251 Z" fill="#222"/>
<ellipse cx="722" cy="217.6" rx="2.8" ry="3.6" fill="#f1d2bc"/>
<path d="M719,215.6 Q719.2,212.6 723.4,212.6 Q728.2,212.8 727.8,217.6 Q727.8,220.6 725.8,221.6 Q725.4,218.4 724.4,216 Q722,215.2 719,215.6 Z" fill="#1a1a1a"/>
</g>
<g fill="#666"><ellipse cx="703.0" cy="457.8" rx="0.8" ry="0.6"/><ellipse cx="706.3" cy="457.8" rx="0.8" ry="0.6"/><ellipse cx="709.6" cy="457.8" rx="0.8" ry="0.6"/><ellipse cx="712.9" cy="457.8" rx="0.8" ry="0.6"/><ellipse cx="716.2" cy="457.8" rx="0.8" ry="0.6"/><ellipse cx="719.5" cy="457.8" rx="0.8" ry="0.6"/></g>
<polygon points="50.6,206.6 58.2,200.79999999999998 58.2,203.7 69.3,203.7 69.3,209.5 58.2,209.5 58.2,212.4" fill="#FFC000"/>
<polygon points="51,312.5 58.6,306.7 58.6,309.6 69.4,309.6 69.4,315.4 58.6,315.4 58.6,318.3" fill="#FFC000"/>
<polygon points="51.3,419 58.9,413.2 58.9,416.1 69.3,416.1 69.3,421.9 58.9,421.9 58.9,424.8" fill="#FFC000"/>
<polygon points="93.3,232.4 100.89999999999999,226.6 100.89999999999999,229.5 112,229.5 112,235.3 100.89999999999999,235.3 100.89999999999999,238.20000000000002" fill="#FFC000"/>
<polygon points="93.3,400 100.89999999999999,394.2 100.89999999999999,397.1 112,397.1 112,402.9 100.89999999999999,402.9 100.89999999999999,405.8" fill="#FFC000"/>
<polygon points="536,232 543.6,226.2 543.6,229.1 554.3,229.1 554.3,234.9 543.6,234.9 543.6,237.8" fill="#FFC000"/>
<polygon points="594,232 601.6,226.2 601.6,229.1 613,229.1 613,234.9 601.6,234.9 601.6,237.8" fill="#FFC000"/>
<polygon points="639.8,166 647.4,160.2 647.4,163.1 658.6,163.1 658.6,168.9 647.4,168.9 647.4,171.8" fill="#FFC000"/>
<polygon points="639.8,232 647.4,226.2 647.4,229.1 658.6,229.1 658.6,234.9 647.4,234.9 647.4,237.8" fill="#FFC000"/>
<polygon points="555.8,316 548.1999999999999,310.2 548.1999999999999,313.1 537.6,313.1 537.6,318.9 548.1999999999999,318.9 548.1999999999999,321.8" fill="#FFC000"/>
<polygon points="614.3,316 606.6999999999999,310.2 606.6999999999999,313.1 595.7,313.1 595.7,318.9 606.6999999999999,318.9 606.6999999999999,321.8" fill="#FFC000"/>
<polygon points="659.7,316 652.1,310.2 652.1,313.1 641,313.1 641,318.9 652.1,318.9 652.1,321.8" fill="#FFC000"/>
<polygon points="135,115.6 127.4,109.8 127.4,112.69999999999999 116,112.69999999999999 116,118.5 127.4,118.5 127.4,121.39999999999999" fill="#FFC000"/>
<polygon points="376.9,355.1 384.9,348.6 381.09999999999997,348.6 381.09999999999997,340.5 372.7,340.5 372.7,348.6 368.9,348.6" fill="#FFC000"/>
<polygon points="435.2,355.1 443.2,348.6 439.4,348.6 439.4,340.5 431.0,340.5 431.0,348.6 427.2,348.6" fill="#FFC000"/>
<polygon points="353.4,46.6 360.9,52.7 357.4,52.7 357.4,61.1 349.4,61.1 349.4,52.7 345.9,52.7" fill="#FFC000"/>
<polygon points="412.1,46.6 419.6,52.7 416.1,52.7 416.1,61.1 408.1,61.1 408.1,52.7 404.6,52.7" fill="#FFC000"/>
<defs><linearGradient id="ag" x1="0" y1="462" x2="0" y2="497" gradientUnits="userSpaceOnUse"><stop offset="0" stop-color="#009FE6"/><stop offset="0.35" stop-color="#2AAEEE"/><stop offset="0.65" stop-color="#8CD3F6"/><stop offset="1" stop-color="#FFFFFF"/></linearGradient></defs>
<polygon points="387.3,462.8 552.5,485 480,485 480,497 295,497 295,485 221.8,485" fill="url(#ag)"/>
<ellipse cx="224" cy="551.5" rx="32" ry="20" fill="#52D0FF"/>
<ellipse cx="224" cy="574" rx="12" ry="8" fill="#52D0FF"/>
<ellipse cx="252" cy="533" rx="13" ry="10.5" fill="#52D0FF"/>
<ellipse cx="318" cy="527" rx="56" ry="33.5" fill="#52D0FF"/>
<ellipse cx="285" cy="590" rx="50" ry="23" fill="#52D0FF"/>
<ellipse cx="420" cy="600" rx="55" ry="24" fill="#52D0FF"/>
<ellipse cx="262" cy="555.5" rx="53" ry="25" fill="#52D0FF"/>
<ellipse cx="350" cy="548" rx="62" ry="54" fill="#52D0FF"/>
<ellipse cx="330" cy="570" rx="68" ry="43" fill="#52D0FF"/>
<ellipse cx="415" cy="522" rx="32" ry="27.5" fill="#52D0FF"/>
<ellipse cx="455" cy="545" rx="70" ry="50" fill="#52D0FF"/>
<ellipse cx="522" cy="557" rx="39" ry="23.5" fill="#52D0FF"/>
<ellipse cx="452" cy="582" rx="67" ry="40" fill="#52D0FF"/>
<ellipse cx="360" cy="550" rx="90" ry="50" fill="#52D0FF"/>
<path d="M226.52,533.90 L225.60,534.24 L224.43,534.77 L223.04,535.42 L221.49,536.19 L219.82,537.03 L218.09,537.92 L216.36,538.85 L214.67,539.79 L213.08,540.72 L211.63,541.63 L210.37,542.50 L209.35,543.33 L208.56,544.13 L207.92,544.93 L207.42,545.74 L207.07,546.57 L206.85,547.40 L206.74,548.21 L206.74,548.99 L206.79,549.72 L206.89,550.40 L206.99,551.05 L207.08,551.67 L207.16,552.32 L207.26,553.05 L207.39,553.83 L207.56,554.63 L207.77,555.44 L208.02,556.27 L208.31,557.10 L208.66,557.93 L209.05,558.77 L209.49,559.62 L209.98,560.45 L210.53,561.29 L211.14,562.11 L211.80,562.93 L212.53,563.75 L213.30,564.57 L214.13,565.38 L214.99,566.19 L215.90,566.98 L216.83,567.77 L217.78,568.54 L218.76,569.28 L219.74,570.01 L220.74,570.70 L221.73,571.36 L222.73,572.00 L223.75,572.61 L224.79,573.20 L225.84,573.76 L226.90,574.30 L227.99,574.83 L229.09,575.33 L230.20,575.82 L231.33,576.29 L232.48,576.75 L233.64,577.20 L234.82,577.64 L236.05,578.07 L237.33,578.50 L238.65,578.91 L239.99,579.31 L241.35,579.69 L242.71,580.06 L244.07,580.41 L245.41,580.74 L246.72,581.05 L248.00,581.33 L249.22,581.59 L250.39,581.82 L251.55,582.02 L252.71,582.19 L253.87,582.33 L255.01,582.45 L256.11,582.54 L257.18,582.61 L258.18,582.66 L259.12,582.69 L259.98,582.70 L260.74,582.69 L261.40,582.65 L261.95,582.55 L262.05,581.85 L261.53,581.60 L260.89,581.41 L260.14,581.23 L259.31,581.05 L258.40,580.86 L257.42,580.67 L256.40,580.46 L255.34,580.24 L254.26,580.01 L253.17,579.75 L252.08,579.48 L251.01,579.18 L249.90,578.86 L248.73,578.51 L247.50,578.14 L246.24,577.75 L244.95,577.34 L243.65,576.91 L242.34,576.47 L241.05,576.02 L239.77,575.57 L238.52,575.10 L237.32,574.63 L236.18,574.16 L235.06,573.69 L233.96,573.20 L232.89,572.71 L231.83,572.22 L230.79,571.71 L229.78,571.20 L228.78,570.67 L227.80,570.13 L226.84,569.58 L225.90,569.02 L224.98,568.44 L224.07,567.84 L223.17,567.21 L222.25,566.55 L221.34,565.87 L220.44,565.17 L219.56,564.45 L218.70,563.73 L217.88,563.00 L217.09,562.27 L216.34,561.55 L215.65,560.84 L215.02,560.15 L214.46,559.49 L213.96,558.84 L213.50,558.19 L213.09,557.53 L212.71,556.88 L212.37,556.22 L212.06,555.57 L211.79,554.91 L211.54,554.26 L211.33,553.61 L211.14,552.97 L210.98,552.34 L210.84,551.68 L210.68,550.98 L210.51,550.31 L210.34,549.71 L210.20,549.17 L210.09,548.68 L210.03,548.25 L210.01,547.84 L210.05,547.44 L210.16,546.99 L210.38,546.49 L210.74,545.91 L211.25,545.27 L212.01,544.52 L213.07,543.65 L214.37,542.69 L215.84,541.69 L217.43,540.65 L219.07,539.62 L220.71,538.60 L222.29,537.63 L223.76,536.72 L225.05,535.89 L226.12,535.16 L226.88,534.50 Z" fill="#fff"/>
<path d="M261.02,530.77 L261.45,530.77 L261.86,530.62 L262.31,530.41 L262.77,530.15 L263.26,529.86 L263.76,529.56 L264.28,529.26 L264.80,528.96 L265.31,528.69 L265.81,528.45 L266.28,528.25 L266.73,528.10 L267.20,527.98 L267.70,527.85 L268.23,527.74 L268.77,527.63 L269.33,527.53 L269.90,527.44 L270.49,527.36 L271.09,527.29 L271.70,527.22 L272.31,527.15 L272.94,527.10 L273.57,527.04 L274.19,527.00 L274.82,526.96 L275.47,526.94 L276.14,526.92 L276.82,526.91 L277.51,526.91 L278.21,526.91 L278.92,526.91 L279.64,526.92 L280.36,526.93 L281.09,526.94 L281.81,526.95 L282.55,526.97 L283.35,527.00 L284.19,527.05 L285.06,527.10 L285.94,527.16 L286.81,527.22 L287.66,527.26 L288.46,527.30 L289.20,527.31 L289.87,527.29 L290.45,527.23 L290.94,527.04 L291.06,526.36 L290.67,526.02 L290.16,525.75 L289.54,525.49 L288.84,525.24 L288.08,524.98 L287.26,524.72 L286.41,524.47 L285.54,524.23 L284.67,524.00 L283.81,523.79 L282.98,523.61 L282.19,523.45 L281.44,523.31 L280.70,523.19 L279.95,523.07 L279.20,522.97 L278.44,522.88 L277.69,522.81 L276.94,522.75 L276.19,522.71 L275.44,522.69 L274.70,522.69 L273.96,522.71 L273.23,522.76 L272.53,522.82 L271.83,522.90 L271.13,523.00 L270.44,523.12 L269.75,523.26 L269.08,523.42 L268.41,523.60 L267.75,523.81 L267.11,524.04 L266.48,524.29 L265.87,524.58 L265.27,524.90 L264.66,525.27 L264.08,525.70 L263.53,526.16 L263.02,526.65 L262.55,527.14 L262.11,527.64 L261.71,528.13 L261.36,528.60 L261.06,529.04 L260.82,529.45 L260.64,529.83 L260.58,530.23 Z" fill="#fff"/>
<path d="M291.33,526.82 L291.66,526.48 L291.95,526.00 L292.25,525.44 L292.55,524.80 L292.87,524.11 L293.21,523.37 L293.55,522.62 L293.90,521.86 L294.25,521.12 L294.61,520.40 L294.96,519.74 L295.31,519.14 L295.67,518.56 L296.02,517.98 L296.38,517.42 L296.73,516.88 L297.09,516.35 L297.46,515.83 L297.83,515.32 L298.22,514.83 L298.64,514.33 L299.07,513.85 L299.53,513.36 L300.03,512.87 L300.57,512.36 L301.14,511.84 L301.73,511.32 L302.35,510.80 L302.99,510.28 L303.65,509.77 L304.34,509.26 L305.04,508.76 L305.77,508.27 L306.51,507.79 L307.27,507.33 L308.04,506.88 L308.85,506.45 L309.72,506.01 L310.64,505.59 L311.61,505.16 L312.60,504.74 L313.61,504.33 L314.63,503.92 L315.65,503.53 L316.65,503.14 L317.62,502.77 L318.57,502.41 L319.46,502.06 L320.30,501.74 L321.11,501.42 L321.89,501.13 L322.64,500.84 L323.38,500.57 L324.10,500.31 L324.81,500.06 L325.51,499.82 L326.21,499.58 L326.91,499.36 L327.60,499.14 L328.30,498.93 L329.01,498.72 L329.77,498.53 L330.55,498.34 L331.35,498.16 L332.15,497.99 L332.94,497.82 L333.70,497.66 L334.41,497.50 L335.07,497.34 L335.65,497.17 L336.15,497.00 L336.54,496.75 L336.46,496.05 L336.03,495.90 L335.51,495.83 L334.91,495.78 L334.23,495.75 L333.50,495.74 L332.71,495.74 L331.89,495.75 L331.05,495.78 L330.19,495.83 L329.34,495.89 L328.50,495.97 L327.70,496.07 L326.93,496.18 L326.17,496.31 L325.41,496.44 L324.65,496.59 L323.88,496.75 L323.11,496.93 L322.32,497.12 L321.53,497.33 L320.71,497.55 L319.88,497.80 L319.02,498.06 L318.14,498.34 L317.23,498.63 L316.26,498.95 L315.26,499.28 L314.22,499.63 L313.16,500.01 L312.09,500.40 L311.02,500.81 L309.95,501.23 L308.90,501.68 L307.88,502.14 L306.89,502.62 L305.96,503.12 L305.07,503.64 L304.21,504.17 L303.38,504.72 L302.57,505.28 L301.80,505.86 L301.05,506.46 L300.33,507.06 L299.64,507.67 L298.97,508.28 L298.34,508.90 L297.74,509.51 L297.17,510.13 L296.63,510.76 L296.12,511.40 L295.66,512.04 L295.23,512.68 L294.83,513.32 L294.47,513.96 L294.13,514.60 L293.82,515.24 L293.52,515.89 L293.24,516.53 L292.96,517.19 L292.69,517.86 L292.41,518.59 L292.14,519.38 L291.88,520.20 L291.64,521.04 L291.42,521.87 L291.22,522.70 L291.04,523.50 L290.88,524.26 L290.76,524.96 L290.67,525.58 L290.62,526.12 L290.67,526.58 Z" fill="#fff"/>
<path d="M264.17,582.31 L264.09,582.71 L264.09,583.19 L264.13,583.74 L264.21,584.36 L264.30,585.03 L264.43,585.74 L264.57,586.48 L264.75,587.24 L264.95,588.00 L265.17,588.75 L265.43,589.49 L265.71,590.19 L266.01,590.84 L266.33,591.47 L266.67,592.10 L267.03,592.73 L267.41,593.35 L267.81,593.97 L268.24,594.58 L268.69,595.19 L269.17,595.79 L269.67,596.38 L270.19,596.96 L270.74,597.53 L271.30,598.09 L271.88,598.65 L272.49,599.19 L273.11,599.73 L273.76,600.26 L274.44,600.79 L275.13,601.30 L275.86,601.81 L276.60,602.30 L277.37,602.78 L278.17,603.24 L278.99,603.70 L279.84,604.14 L280.73,604.56 L281.64,604.97 L282.57,605.37 L283.52,605.75 L284.48,606.11 L285.45,606.47 L286.44,606.81 L287.42,607.14 L288.41,607.46 L289.39,607.77 L290.37,608.08 L291.35,608.37 L292.34,608.66 L293.34,608.93 L294.35,609.20 L295.36,609.46 L296.38,609.71 L297.41,609.95 L298.45,610.17 L299.50,610.38 L300.56,610.58 L301.63,610.76 L302.72,610.93 L303.86,611.08 L305.08,611.23 L306.36,611.35 L307.67,611.47 L308.98,611.56 L310.27,611.65 L311.52,611.71 L312.70,611.76 L313.79,611.79 L314.76,611.79 L315.59,611.76 L316.26,611.65 L316.34,610.95 L315.72,610.67 L314.92,610.45 L313.97,610.23 L312.90,610.02 L311.75,609.79 L310.53,609.57 L309.27,609.33 L307.99,609.09 L306.73,608.84 L305.51,608.59 L304.35,608.33 L303.28,608.07 L302.27,607.80 L301.26,607.52 L300.27,607.23 L299.28,606.93 L298.30,606.63 L297.33,606.32 L296.37,606.00 L295.41,605.67 L294.46,605.34 L293.51,605.01 L292.57,604.67 L291.63,604.32 L290.68,603.98 L289.74,603.63 L288.79,603.27 L287.85,602.91 L286.92,602.55 L286.01,602.19 L285.11,601.82 L284.23,601.44 L283.38,601.06 L282.56,600.68 L281.77,600.29 L281.01,599.90 L280.28,599.50 L279.57,599.09 L278.88,598.68 L278.21,598.25 L277.56,597.82 L276.92,597.39 L276.31,596.94 L275.71,596.50 L275.12,596.04 L274.55,595.59 L274.00,595.13 L273.46,594.67 L272.94,594.20 L272.45,593.74 L271.96,593.27 L271.50,592.80 L271.05,592.31 L270.61,591.83 L270.19,591.34 L269.78,590.84 L269.39,590.34 L269.01,589.83 L268.64,589.32 L268.29,588.81 L267.96,588.30 L267.64,587.73 L267.32,587.11 L267.02,586.46 L266.72,585.80 L266.44,585.14 L266.16,584.49 L265.90,583.88 L265.64,583.32 L265.39,582.82 L265.14,582.40 L264.83,582.09 Z" fill="#fff"/>
<path d="M409.08,509.90 L409.76,509.79 L410.52,509.50 L411.37,509.11 L412.30,508.64 L413.30,508.13 L414.34,507.58 L415.42,507.01 L416.52,506.45 L417.62,505.92 L418.69,505.42 L419.72,504.99 L420.68,504.62 L421.63,504.32 L422.61,504.04 L423.60,503.78 L424.61,503.54 L425.64,503.32 L426.68,503.11 L427.74,502.90 L428.80,502.69 L429.87,502.48 L430.95,502.27 L432.03,502.04 L433.10,501.79 L434.14,501.53 L435.16,501.27 L436.17,501.01 L437.16,500.75 L438.14,500.48 L439.12,500.22 L440.10,499.96 L441.09,499.70 L442.09,499.45 L443.12,499.21 L444.17,498.97 L445.24,498.75 L446.41,498.53 L447.69,498.31 L449.06,498.10 L450.48,497.90 L451.93,497.70 L453.36,497.50 L454.76,497.30 L456.08,497.10 L457.30,496.90 L458.39,496.69 L459.31,496.47 L460.03,496.15 L459.97,495.45 L459.22,495.24 L458.29,495.13 L457.19,495.06 L455.95,495.01 L454.61,494.98 L453.19,494.97 L451.73,494.97 L450.25,494.99 L448.78,495.03 L447.36,495.09 L446.01,495.16 L444.76,495.25 L443.59,495.37 L442.45,495.50 L441.35,495.66 L440.28,495.83 L439.22,496.02 L438.18,496.22 L437.16,496.43 L436.15,496.65 L435.14,496.88 L434.13,497.12 L433.12,497.36 L432.10,497.61 L431.08,497.85 L430.04,498.09 L428.98,498.33 L427.92,498.57 L426.84,498.83 L425.75,499.11 L424.67,499.40 L423.58,499.72 L422.50,500.08 L421.42,500.47 L420.36,500.90 L419.32,501.38 L418.26,501.93 L417.18,502.55 L416.10,503.23 L415.03,503.95 L413.99,504.69 L412.98,505.44 L412.03,506.18 L411.15,506.89 L410.35,507.57 L409.66,508.19 L409.10,508.75 L408.72,509.30 Z" fill="#fff"/>
<path d="M390.37,591.33 L390.31,591.92 L390.38,592.60 L390.49,593.40 L390.66,594.29 L390.86,595.26 L391.11,596.29 L391.40,597.35 L391.74,598.43 L392.11,599.50 L392.54,600.55 L393.02,601.57 L393.56,602.52 L394.15,603.40 L394.80,604.24 L395.49,605.05 L396.23,605.84 L396.99,606.59 L397.77,607.32 L398.56,608.02 L399.35,608.69 L400.14,609.33 L400.91,609.95 L401.66,610.53 L402.38,611.10 L403.09,611.65 L403.81,612.18 L404.51,612.69 L405.22,613.17 L405.93,613.64 L406.65,614.08 L407.38,614.51 L408.11,614.92 L408.86,615.31 L409.63,615.68 L410.41,616.04 L411.22,616.38 L412.10,616.72 L413.04,617.04 L414.02,617.35 L415.01,617.63 L416.02,617.90 L417.01,618.14 L417.97,618.35 L418.88,618.53 L419.72,618.67 L420.47,618.77 L421.12,618.82 L421.68,618.73 L421.92,618.07 L421.52,617.65 L420.96,617.29 L420.29,616.92 L419.53,616.54 L418.70,616.14 L417.83,615.74 L416.93,615.32 L416.02,614.90 L415.13,614.47 L414.28,614.05 L413.49,613.63 L412.78,613.22 L412.10,612.80 L411.44,612.39 L410.80,611.96 L410.16,611.53 L409.53,611.10 L408.91,610.65 L408.29,610.20 L407.66,609.73 L407.02,609.25 L406.37,608.75 L405.71,608.24 L405.02,607.70 L404.29,607.14 L403.53,606.56 L402.76,605.98 L401.98,605.39 L401.20,604.80 L400.43,604.19 L399.68,603.58 L398.95,602.97 L398.26,602.35 L397.60,601.73 L396.99,601.10 L396.44,600.48 L395.93,599.82 L395.42,599.05 L394.92,598.20 L394.43,597.30 L393.95,596.36 L393.50,595.42 L393.06,594.50 L392.65,593.63 L392.25,592.82 L391.86,592.10 L391.47,591.49 L391.03,591.07 Z" fill="#fff"/>
</svg>
<div class="t w" style="left:33.00px;top:14.48px;font-size:13.00px;line-height:15.75px;--k:1.330;">信息<br>发布</div>
<div class="t w" style="left:32.90px;top:88.90px;font-size:13.00px;line-height:15.70px;--k:1.330;">统筹<br>管理</div>
<div class="t w" style="left:415.90px;top:64.53px;font-size:12.20px;line-height:14.64px;--k:1.345;">数据编审机制</div>
<div class="t g" style="left:167.20px;top:128.68px;font-size:9.20px;line-height:11.04px;--k:1.330;">重点项目</div>
<div class="t g" style="left:241.30px;top:128.68px;font-size:9.20px;line-height:11.04px;--k:1.330;">工业发展</div>
<div class="t g" style="left:314.00px;top:128.68px;font-size:9.20px;line-height:11.04px;--k:1.330;">农业发展</div>
<div class="t g" style="left:387.70px;top:128.68px;font-size:9.20px;line-height:11.04px;--k:1.330;">第三产业</div>
<div class="t g" style="left:461.35px;top:128.68px;font-size:9.20px;line-height:11.04px;--k:1.330;">社会民情</div>
<div class="t g" style="left:534.00px;top:128.68px;font-size:9.20px;line-height:11.04px;--k:1.330;">楼市房产</div>
<div class="t g" style="left:607.75px;top:128.68px;font-size:9.20px;line-height:11.04px;--k:1.330;">人口变化</div>
<div class="t g" style="left:681.65px;top:128.68px;font-size:9.20px;line-height:11.04px;--k:1.330;">企业资源</div>
<div class="t w" style="left:33.00px;top:197.70px;font-size:13.00px;line-height:15.20px;--k:1.330;">统计<br>分析</div>
<div class="t w" style="left:32.40px;top:304.20px;font-size:13.00px;line-height:15.60px;--k:1.330;">趋势<br>预测</div>
<div class="t w" style="left:32.90px;top:410.25px;font-size:13.00px;line-height:15.70px;--k:1.330;">指标<br>预警</div>
<div class="t w" style="left:82.20px;top:256.65px;font-size:15.10px;line-height:18.50px;--k:1.380;">统<br>计<br>模<br>型<br>融<br>合</div>
<div class="t w" style="left:358.40px;top:162.69px;font-size:15.10px;line-height:18.12px;--k:1.330;">应用支撑体系</div>
<div class="t b" style="left:148.50px;top:250.08px;font-size:19.60px;line-height:23.45px;--k:1.300;">统<br>计<br>大<br>数<br>据<br>中<br>心</div>
<div class="t w" style="left:202.40px;top:232.70px;font-size:15.20px;line-height:18.40px;--k:1.310;">数<br>据<br>处<br>理</div>
<div class="t w" style="left:202.40px;top:369.90px;font-size:15.20px;line-height:18.20px;--k:1.310;">数<br>据<br>沉<br>淀</div>
<div class="t w" style="left:575.60px;top:201.65px;font-size:11.90px;line-height:14.70px;--k:1.450;">数<br>据<br>交<br>换</div>
<div class="t w" style="left:575.60px;top:279.80px;font-size:11.90px;line-height:14.40px;--k:1.450;">数<br>据<br>共<br>享</div>
<div class="t w" style="left:629.40px;top:245.80px;font-size:14.90px;line-height:18.40px;--k:1.360;">信<br>息<br>安<br>全<br>体<br>系</div>
<div class="t w" style="left:379.70px;top:212.90px;font-size:12.00px;line-height:14.40px;--k:1.320;">需求</div>
<div class="t w" style="left:465.10px;top:262.80px;font-size:12.00px;line-height:14.40px;--k:1.320;">采集</div>
<div class="t w" style="left:293.75px;top:263.20px;font-size:12.00px;line-height:14.40px;--k:1.320;">应用</div>
<div class="t w" style="left:379.70px;top:313.80px;font-size:12.00px;line-height:14.40px;--k:1.320;">分析</div>
<div class="t w" style="left:713.90px;top:157.62px;font-size:11.80px;line-height:14.16px;--k:1.360;">一套表数据</div>
<div class="t w" style="left:713.50px;top:184.58px;font-size:11.70px;line-height:14.04px;--k:1.350;">业务部门数据</div>
<div class="t g" style="left:711.60px;top:257.02px;font-size:8.30px;line-height:9.96px;--k:1.500;">工商局</div>
<div class="t g" style="left:711.60px;top:316.02px;font-size:8.30px;line-height:9.96px;--k:1.500;">税务局</div>
<div class="t g" style="left:711.60px;top:375.72px;font-size:8.30px;line-height:9.96px;--k:1.500;">财政局</div>
<div class="t g" style="left:711.60px;top:435.52px;font-size:8.30px;line-height:9.96px;--k:1.500;">工信委</div>
<div class="t w" style="left:386.40px;top:544.20px;font-size:20.50px;line-height:24.60px;--k:1.280;">云计算服务</div>
<div class="t g" style="left:267.80px;top:388.77px;font-size:8.30px;line-height:9.96px;--k:1.500;">企业信息库</div>
<div class="t g" style="left:267.80px;top:435.52px;font-size:8.30px;line-height:9.96px;--k:1.500;">经济运行库</div>
<div class="t g" style="left:359.90px;top:388.77px;font-size:8.30px;line-height:9.96px;--k:1.500;">人口信息库</div>
<div class="t g" style="left:359.90px;top:435.52px;font-size:8.30px;line-height:9.96px;--k:1.500;">农业信息库</div>
<div class="t g" style="left:451.10px;top:388.77px;font-size:8.30px;line-height:9.96px;--k:1.500;">项目信息库</div>
<div class="t g" style="left:451.10px;top:435.52px;font-size:8.30px;line-height:9.96px;--k:1.500;">工业信息库</div>
<div class="t g" style="left:542.70px;top:388.77px;font-size:8.30px;line-height:9.96px;--k:1.500;">地理信息库</div>
<div class="t g" style="left:542.70px;top:435.52px;font-size:8.30px;line-height:9.96px;--k:1.500;">环保信息库</div>
</body></html>
